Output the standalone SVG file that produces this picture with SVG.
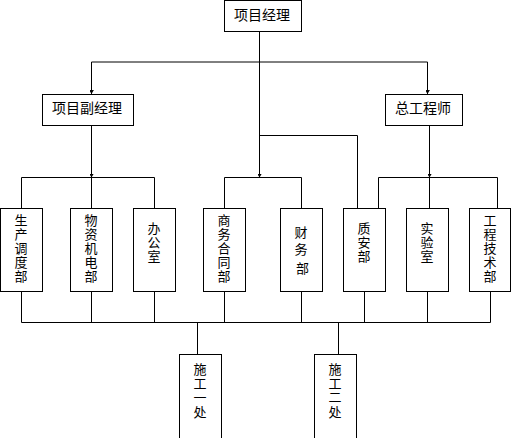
<svg xmlns="http://www.w3.org/2000/svg" width="511" height="438" viewBox="0 0 511 438">
<defs>
<style>
.box{fill:#fff;stroke:#000;stroke-width:1}
.ln{fill:none;stroke:#000;stroke-width:1}
.t{font-family:"Noto Sans CJK SC","Noto Sans",sans-serif;font-size:14px;fill:#000;text-anchor:middle;dominant-baseline:central}
.v{font-size:13px}
</style>
<marker id="arr" markerUnits="userSpaceOnUse" markerWidth="8" markerHeight="8" viewBox="-4 -6 8 8" refX="0" refY="0" orient="auto-start-reverse">
<path d="M-5,-3 L0,0 L-5,3 L-3.5,0 Z" fill="#000"/>
</marker>
</defs>
<rect width="511" height="438" fill="#fff"/>
<g id="connectors">
<path class="ln" d="M259.5 31 V62 M91.5 62 H427.5"/>
<path class="ln" d="M91.5 62 V94" marker-end="url(#arr)"/>
<path class="ln" d="M427.5 62 V94" marker-end="url(#arr)"/>
<path class="ln" d="M259.5 62 V177.5" marker-end="url(#arr)"/>
<path class="ln" d="M259.5 135.5 H357.5 V208"/>
<path class="ln" d="M91.5 125 V177.5" marker-end="url(#arr)"/>
<path class="ln" d="M21.5 208 V177.5 H154.5 V208 M91.5 177.5 V208"/>
<path class="ln" d="M224.5 208 V177.5 H301.5 V208"/>
<path class="ln" d="M429.5 126 V177.5" marker-end="url(#arr)"/>
<path class="ln" d="M378.5 208 V177.5 H497.5 V208 M429.5 177.5 V208"/>
<path class="ln" d="M21.5 291 V322.5 H490.5 V291 M91.5 291 V322.5 M154.5 291 V322.5 M224.5 291 V322.5 M301.5 291 V322.5 M364.5 291 V322.5 M427.5 291 V322.5"/>
<path class="ln" d="M197.5 322.5 V354 M338.5 322.5 V354"/>
</g>
<g id="n-pm"><rect class="box" x="224.5" y="0.5" width="77" height="31"/><text class="t" x="262" y="14">项目经理</text></g>
<g id="n-dpm"><rect class="box" x="42.5" y="94.5" width="91" height="31"/><text class="t" x="87" y="107">项目副经理</text></g>
<g id="n-ce"><rect class="box" x="385.5" y="94.5" width="77" height="31"/><text class="t" x="423" y="107">总工程师</text></g>
<g id="n-scdd"><rect class="box" x="0.5" y="208.5" width="42" height="83"/>
<text class="t v"><tspan x="21" y="219">生</tspan><tspan x="21" y="233">产</tspan><tspan x="21" y="247">调</tspan><tspan x="21" y="261">度</tspan><tspan x="21" y="275">部</tspan></text></g>
<g id="n-wzjd"><rect class="box" x="70.5" y="208.5" width="42" height="83"/>
<text class="t v"><tspan x="91" y="219">物</tspan><tspan x="91" y="233">资</tspan><tspan x="91" y="247">机</tspan><tspan x="91" y="261">电</tspan><tspan x="91" y="275">部</tspan></text></g>
<g id="n-bgs"><rect class="box" x="133.5" y="208.5" width="42" height="83"/>
<text class="t v"><tspan x="154" y="227">办</tspan><tspan x="154" y="241">公</tspan><tspan x="154" y="255">室</tspan></text></g>
<g id="n-swht"><rect class="box" x="203.5" y="208.5" width="42" height="83"/>
<text class="t v"><tspan x="224" y="219">商</tspan><tspan x="224" y="233">务</tspan><tspan x="224" y="247">合</tspan><tspan x="224" y="261">同</tspan><tspan x="224" y="275">部</tspan></text></g>
<g id="n-cw"><rect class="box" x="280.5" y="208.5" width="42" height="83"/>
<text class="t v"><tspan x="301" y="231">财</tspan><tspan x="301" y="248">务</tspan><tspan x="301" y="267"> 部</tspan></text></g>
<g id="n-za"><rect class="box" x="343.5" y="208.5" width="42" height="83"/>
<text class="t v"><tspan x="364" y="227">质</tspan><tspan x="364" y="241">安</tspan><tspan x="364" y="255">部</tspan></text></g>
<g id="n-sys"><rect class="box" x="406.5" y="208.5" width="42" height="83"/>
<text class="t v"><tspan x="427" y="227">实</tspan><tspan x="427" y="241">验</tspan><tspan x="427" y="255">室</tspan></text></g>
<g id="n-gcjs"><rect class="box" x="469.5" y="208.5" width="41" height="83"/>
<text class="t v"><tspan x="490" y="219">工</tspan><tspan x="490" y="233">程</tspan><tspan x="490" y="247">技</tspan><tspan x="490" y="261">术</tspan><tspan x="490" y="275">部</tspan></text></g>
<g id="n-sg1"><rect class="box" x="179.5" y="354.5" width="42" height="90"/>
<text class="t v"><tspan x="200" y="368">施</tspan><tspan x="200" y="382">工</tspan><tspan x="200" y="396">一</tspan><tspan x="200" y="411">处</tspan></text></g>
<g id="n-sg2"><rect class="box" x="314.5" y="354.5" width="42" height="90"/>
<text class="t v"><tspan x="335" y="368">施</tspan><tspan x="335" y="382">工</tspan><tspan x="335" y="396">二</tspan><tspan x="335" y="411">处</tspan></text></g>
</svg>
